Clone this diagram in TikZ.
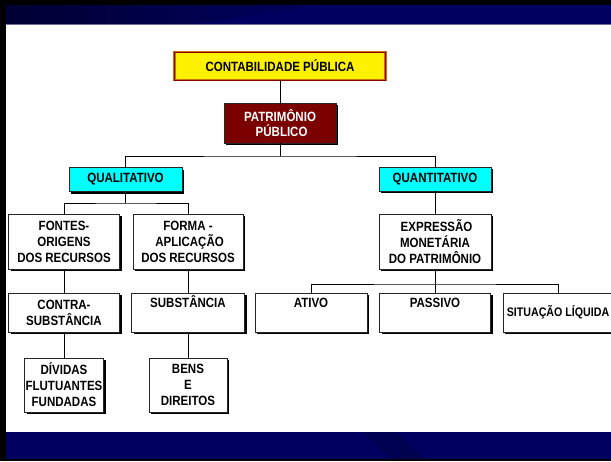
\documentclass[tikz,border=0pt]{standalone}
\usepackage{fontspec}
\setmainfont{Liberation Sans}[FakeStretch=0.86]
\usetikzlibrary{shadows,calc}
\definecolor{navyband}{RGB}{0,0,96}
\definecolor{navydark}{RGB}{0,0,52}
\definecolor{maroonbox}{RGB}{123,0,0}
\definecolor{cyanbox}{RGB}{0,255,255}
\definecolor{frameout}{RGB}{204,110,20}
\definecolor{framein}{RGB}{140,0,0}
\definecolor{bandline}{RGB}{110,110,160}

\begin{document}
\begin{tikzpicture}[x=1pt, y=-1pt,
    dropbox/.style={drop shadow={shadow xshift=2pt, shadow yshift=-2pt, fill=black, opacity=1}},
    box/.style={draw=black!85, line width=0.6pt, fill=white, align=center, inner sep=0pt,
        font=\bfseries\fontsize{13.4}{16}\selectfont, dropbox},
    topline/.style={text height=9pt, text depth=19pt},
    titlebox/.style={draw=frameout, double=framein, double distance=0.5pt, line width=0.8pt,
        fill=yellow, align=center, inner sep=0pt, font=\bfseries\fontsize{13.4}{16}\selectfont},
    headbox/.style={box, fill=maroonbox, text=white, font=\bfseries\fontsize{13.4}{15}\selectfont},
    kindbox/.style={box, fill=cyanbox},
    link/.style={line width=0.7pt}
]
\useasboundingbox (0,0) rectangle (611,461);
\clip (0,0) rectangle (611,461);

% slide frame
\fill[white] (0,0) rectangle (611,461);
\fill[navyband] (0,5) rectangle (611,24);
\shade[left color=navydark, right color=navyband] (6,5) -- (330,5) -- (190,24) -- (6,24) -- cycle;
\draw[line width=0.8pt, bandline] (6,24) -- (611,24);
\fill[navyband] (0,432) rectangle (611,459);
\fill[navydark!35!navyband] (362,432) -- (395,432) -- (425,459) -- (392,459) -- cycle;
\fill[black] (0,0) rectangle (611,5);
\fill[black] (0,459) rectangle (611,461);
\fill[black] (0,0) rectangle (6,461);

% boxes
\node[titlebox, minimum width=211pt, minimum height=28pt] (contab) at (280,66) {CONTABILIDADE PÚBLICA};
\node[headbox, minimum width=112pt, minimum height=40pt] (patr) at (280,123) {PATRIMÔNIO\\ \ PÚBLICO};

\node[kindbox, minimum width=113pt, minimum height=24pt] (qual) at (125.5,179.5) {QUALITATIVO};
\node[kindbox, minimum width=112pt, minimum height=24pt] (quant) at (435,179) {QUANTITATIVO};

\node[box, minimum width=111pt, minimum height=55pt] (fontes) at (64,241.5) {FONTES-\\ORIGENS\\DOS RECURSOS};
\node[box, minimum width=110pt, minimum height=55pt] (forma) at (188,241.5) {FORMA -\\ \ APLICAÇÃO\\DOS RECURSOS};
\node[box, minimum width=112pt, minimum height=55pt] (expr) at (435,241.5) {\ EXPRESSÃO\\MONETÁRIA\\DO PATRIMÔNIO};

\node[box, minimum width=111pt, minimum height=39pt] (contra) at (64,312.5) {CONTRA-\\SUBSTÂNCIA};
\node[box, topline, minimum width=113pt, minimum height=39pt] (subst) at (188,312.5) {SUBSTÂNCIA};
\node[box, topline, minimum width=112pt, minimum height=39pt] (ativo) at (311,312.5) {ATIVO};
\node[box, topline, minimum width=111pt, minimum height=39pt] (passivo) at (435,312.5) {PASSIVO};
\node[box, minimum width=110pt, minimum height=39pt, font=\bfseries\fontsize{12.4}{16}\selectfont] (situ) at (558,312.5) {SITUAÇÃO LÍQUIDA};

\node[box, minimum width=79pt, minimum height=54pt] (dividas) at (64,385) {DÍVIDAS\\FLUTUANTES\\FUNDADAS};
\node[box, minimum width=78pt, minimum height=54pt] (bens) at (188,385) {BENS\\E\\DIREITOS};

% connectors
\coordinate (busA) at (280,156);
\coordinate (busB) at (125.5,203);
\coordinate (busC) at (435,284);

\draw[link] (contab.south) -- (patr.north);
\draw[link] (patr.south) -- (busA);
\draw[link] (qual.north) |- (busA) -| (quant.north);

\draw[link] (qual.south) -- (busB);
\draw[link] (fontes.north) |- (busB) -| (forma.north);
\draw[link] (quant.south) -- (expr.north);

\draw[link] (fontes.south) -- (contra.north);
\draw[link] (forma.south) -- (subst.north);
\draw[link] (expr.south) -- (busC);
\draw[link] (ativo.north) |- (busC) -| (situ.north);
\draw[link] (busC) -- (passivo.north);

\draw[link] (contra.south) -- (dividas.north);
\draw[link] (subst.south) -- (bens.north);
\end{tikzpicture}
\end{document}
